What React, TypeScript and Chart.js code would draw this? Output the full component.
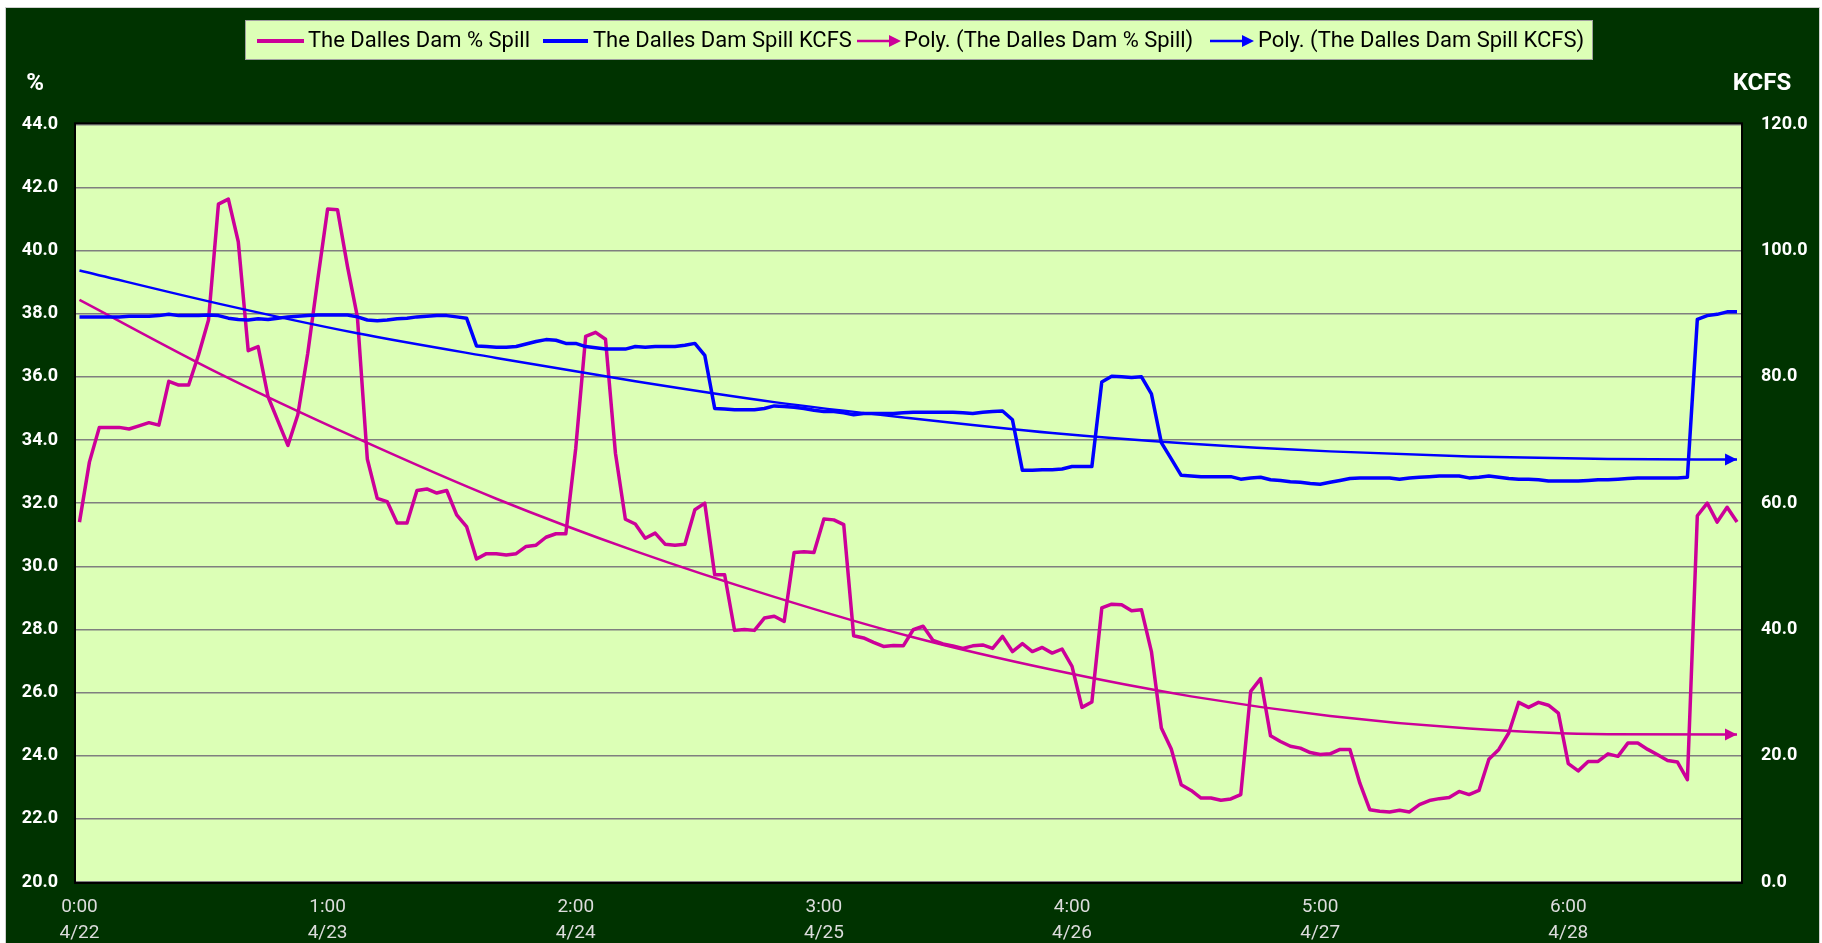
import React, { useEffect, useRef } from 'react';
import { Chart, registerables } from 'chart.js';

Chart.register(...registerables);

// ---------- data ----------
const X_TICK_INDEX = [0, 25, 50, 75, 100, 125, 150];
const X_TICK_TIME = ['0:00', '1:00', '2:00', '3:00', '4:00', '5:00', '6:00'];
const X_TICK_DATE = ['4/22', '4/23', '4/24', '4/25', '4/26', '4/27', '4/28'];

const LEGEND_LABELS = [
  'The Dalles Dam % Spill',
  'The Dalles Dam Spill KCFS',
  'Poly. (The Dalles Dam % Spill)',
  'Poly. (The Dalles Dam Spill KCFS)',
];

// hourly % spill (left axis)
const PCT_SPILL = [
  31.4, 33.3, 34.4, 34.4, 34.4, 34.35, 34.45, 34.55, 34.47, 35.86,
  35.74, 35.74, 36.7, 37.8, 41.47, 41.63, 40.28, 36.83, 36.96, 35.37,
  34.6, 33.83, 34.8, 36.75, 39.07, 41.32, 41.29, 39.5, 37.9, 33.4,
  32.15, 32.05, 31.37, 31.37, 32.4, 32.45, 32.32, 32.4, 31.63, 31.26,
  30.23, 30.4, 30.4, 30.36, 30.4, 30.63, 30.67, 30.92, 31.03, 31.03,
  33.74, 37.28, 37.41, 37.19, 33.58, 31.49, 31.34, 30.89, 31.05, 30.7,
  30.67, 30.7, 31.79, 32.0, 29.73, 29.73, 27.97, 28.0, 27.97, 28.36,
  28.42, 28.25, 30.44, 30.46, 30.44, 31.5, 31.47, 31.32, 27.8, 27.73,
  27.59, 27.46, 27.49, 27.48, 27.99, 28.1, 27.65, 27.54, 27.48, 27.4,
  27.48, 27.51, 27.4, 27.78, 27.3, 27.55, 27.3, 27.43, 27.25, 27.38,
  26.83, 25.53, 25.7, 28.68, 28.8, 28.78, 28.59, 28.62, 27.3, 24.88,
  24.21, 23.08, 22.9, 22.66, 22.66, 22.59, 22.63, 22.77, 26.04, 26.44,
  24.63, 24.45, 24.3, 24.24, 24.1, 24.04, 24.06, 24.2, 24.2, 23.13,
  22.29, 22.24, 22.22, 22.27, 22.22, 22.45, 22.58, 22.64, 22.68, 22.87,
  22.77, 22.9, 23.89, 24.2, 24.72, 25.69, 25.53, 25.69, 25.6, 25.35,
  23.75, 23.52, 23.82, 23.82, 24.06, 23.98, 24.4, 24.4, 24.2, 24.03,
  23.85, 23.8, 23.24, 31.6, 32.0, 31.4, 31.87, 31.4,
];

// hourly spill KCFS (right axis)
const KCFS_SPILL = [
  89.5, 89.5, 89.5, 89.5, 89.5, 89.6, 89.6, 89.6, 89.7, 89.9,
  89.7, 89.7, 89.7, 89.8, 89.7, 89.3, 89.1, 89.0, 89.2, 89.1,
  89.3, 89.5, 89.6, 89.7, 89.8, 89.8, 89.8, 89.8, 89.5, 89.0,
  88.9, 89.0, 89.2, 89.3, 89.5, 89.6, 89.7, 89.7, 89.5, 89.3,
  84.9, 84.8, 84.7, 84.7, 84.8, 85.2, 85.6, 85.9, 85.8, 85.3,
  85.3, 84.8, 84.6, 84.4, 84.4, 84.4, 84.8, 84.7, 84.8, 84.8,
  84.8, 85.0, 85.3, 83.4, 75.0, 74.9, 74.8, 74.8, 74.8, 75.0,
  75.4, 75.3, 75.2, 75.0, 74.7, 74.5, 74.5, 74.3, 74.0, 74.2,
  74.2, 74.2, 74.2, 74.3, 74.4, 74.4, 74.4, 74.4, 74.4, 74.3,
  74.2, 74.4, 74.5, 74.6, 73.2, 65.2, 65.2, 65.3, 65.3, 65.4,
  65.8, 65.8, 65.8, 79.2, 80.1, 80.0, 79.9, 80.0, 77.3, 69.6,
  67.0, 64.4, 64.3, 64.2, 64.2, 64.2, 64.2, 63.8, 64.0, 64.1,
  63.7, 63.6, 63.4, 63.3, 63.1, 63.0, 63.3, 63.6, 63.9, 64.0,
  64.0, 64.0, 64.0, 63.8, 64.0, 64.1, 64.2, 64.3, 64.3, 64.3,
  64.0, 64.1, 64.3, 64.1, 63.9, 63.8, 63.8, 63.7, 63.5, 63.5,
  63.5, 63.5, 63.6, 63.7, 63.7, 63.8, 63.9, 64.0, 64.0, 64.0,
  64.0, 64.0, 64.1, 89.1, 89.7, 89.9, 90.3, 90.3,
];

// polynomial trend lines at sample hours
const TREND_IDX = [0, 14, 28, 42, 56, 70, 84, 98, 112, 126, 140, 154, 167];
const PCT_TREND = [38.44, 36.12, 34.05, 32.14, 30.48, 29.03, 27.75, 26.72, 25.88, 25.26, 24.86, 24.68, 24.67];
const KCFS_TREND = [96.85, 91.6, 86.9, 83.0, 79.3, 76.0, 73.4, 71.1, 69.4, 68.2, 67.4, 67.0, 66.9];

// ---------- style ----------
const CANVAS_W = 1811;
const CANVAS_H = 934;
const DARK_GREEN = '#003300';
const PLOT_BG = '#DCFFB6';
const PINK = '#CC0099';
const BLUE = '#0000FF';

function drawArrowHead(ctx: CanvasRenderingContext2D, x: number, y: number, ang: number, len: number, half: number, color: string) {
  ctx.save();
  ctx.translate(x, y);
  ctx.rotate(ang);
  ctx.fillStyle = color;
  ctx.beginPath();
  ctx.moveTo(0, 0);
  ctx.lineTo(-len, -half);
  ctx.lineTo(-len, half);
  ctx.closePath();
  ctx.fill();
  ctx.restore();
}

const overlayPlugin = {
  id: 'overlay',
  beforeDraw(chart: any) {
    const { ctx, chartArea: a } = chart;
    ctx.save();
    ctx.fillStyle = DARK_GREEN;
    ctx.fillRect(0, 0, chart.width, chart.height);
    ctx.fillStyle = PLOT_BG;
    ctx.fillRect(a.left, a.top, a.right - a.left, a.bottom - a.top);
    ctx.restore();
  },
  afterDatasetsDraw(chart: any) {
    const { ctx, chartArea: a } = chart;
    // arrow heads on trend lines
    chart.data.datasets.forEach((ds: any, di: number) => {
      if (!ds.arrow) return;
      const pts = chart.getDatasetMeta(di).data;
      const p1 = pts[pts.length - 1];
      const p0 = pts[pts.length - 2];
      let fx = p0.x, fy = p0.y;
      if (typeof p1.cp1x === 'number' && Math.abs(p1.cp1x - p1.x) > 0.5) { fx = p1.cp1x; fy = p1.cp1y; }
      const ang = Math.atan2(p1.y - fy, p1.x - fx);
      drawArrowHead(ctx, p1.x, p1.y, ang, 12, 6, ds.borderColor);
    });
    // plot frame
    ctx.save();
    ctx.strokeStyle = '#000';
    ctx.lineWidth = 2;
    ctx.strokeRect(a.left - 1, a.top - 1, a.right - a.left + 2, a.bottom - a.top + 2);
    ctx.restore();
  },
  afterDraw(chart: any) {
    const ctx = chart.ctx as CanvasRenderingContext2D;
    ctx.save();
    // legend box
    const bx = 238, by = 11, bw = 1348, bh = 40;
    ctx.fillStyle = PLOT_BG;
    ctx.fillRect(bx, by, bw, bh);
    ctx.strokeStyle = '#a0a0a0';
    ctx.lineWidth = 1;
    ctx.strokeRect(bx + 0.5, by + 0.5, bw - 1, bh - 1);

    ctx.font = '20px Roboto';
    const w0 = ctx.measureText(LEGEND_LABELS[0]).width;
    const fs = 20 * 222 / w0;
    ctx.font = `${fs.toFixed(2)}px Roboto`;
    ctx.textBaseline = 'middle';
    ctx.textAlign = 'left';
    const cy = by + bh / 2 + 1;
    const entries = [
      { x0: 250, x1: 297, tx: 301, color: PINK, arrow: false },
      { x0: 536, x1: 581, tx: 586, color: BLUE, arrow: false },
      { x0: 850, x1: 894, tx: 897, color: PINK, arrow: true },
      { x0: 1203, x1: 1247, tx: 1251, color: BLUE, arrow: true },
    ];
    entries.forEach((e, k) => {
      ctx.strokeStyle = e.color;
      ctx.lineWidth = e.arrow ? 2.5 : 4;
      ctx.beginPath();
      ctx.moveTo(e.x0, cy);
      ctx.lineTo(e.arrow ? e.x1 - 8 : e.x1, cy);
      ctx.stroke();
      if (e.arrow) drawArrowHead(ctx, e.x1, cy, 0, 12, 6, e.color);
      ctx.fillStyle = '#000';
      ctx.fillText(LEGEND_LABELS[k], e.tx, cy);
    });

    // axis unit titles
    ctx.fillStyle = '#ffffff';
    ctx.font = 'bold 24px Roboto';
    ctx.textAlign = 'center';
    ctx.fillText('%', 28, 75);
    ctx.fillText('KCFS', 1755, 75);
    ctx.restore();
  },
};

export default function App() {
  const ref = useRef<HTMLCanvasElement>(null);

  useEffect(() => {
    const canvas = ref.current;
    if (!canvas) return;
    const chart = new Chart(canvas, {
      type: 'line',
      data: {
        datasets: [
          {
            label: LEGEND_LABELS[0],
            data: PCT_SPILL.map((v, i) => ({ x: i, y: v })),
            yAxisID: 'yPct',
            borderColor: PINK,
            borderWidth: 3.5,
            pointRadius: 0,
            tension: 0,
            order: 4,
          },
          {
            label: LEGEND_LABELS[1],
            data: KCFS_SPILL.map((v, i) => ({ x: i, y: v })),
            yAxisID: 'yKcfs',
            borderColor: BLUE,
            borderWidth: 3.5,
            pointRadius: 0,
            tension: 0,
            order: 2,
          },
          {
            label: LEGEND_LABELS[2],
            data: TREND_IDX.map((x, k) => ({ x, y: PCT_TREND[k] })),
            yAxisID: 'yPct',
            borderColor: PINK,
            borderWidth: 2.5,
            pointRadius: 0,
            cubicInterpolationMode: 'monotone',
            order: 3,
            arrow: true,
          } as any,
          {
            label: LEGEND_LABELS[3],
            data: TREND_IDX.map((x, k) => ({ x, y: KCFS_TREND[k] })),
            yAxisID: 'yKcfs',
            borderColor: BLUE,
            borderWidth: 2.5,
            pointRadius: 0,
            cubicInterpolationMode: 'monotone',
            order: 1,
            arrow: true,
          } as any,
        ],
      },
      options: {
        responsive: false,
        maintainAspectRatio: false,
        devicePixelRatio: 1,
        animation: false,
        layout: { padding: { top: 115.3, left: 0, right: 0, bottom: 0 } },
        elements: {
          point: { radius: 0 },
          line: { borderJoinStyle: 'round', borderCapStyle: 'butt' },
        },
        plugins: {
          legend: { display: false },
          tooltip: { enabled: false },
        },
        scales: {
          x: {
            type: 'linear',
            min: -0.35,
            max: 167.4,
            afterBuildTicks: (s: any) => {
              s.ticks = X_TICK_INDEX.map((v) => ({ value: v }));
            },
            afterFit: (s: any) => {
              s.height = 61;
            },
            grid: { display: false, drawTicks: false },
            border: { display: false },
            ticks: {
              autoSkip: false,
              maxRotation: 0,
              minRotation: 0,
              padding: 12,
              color: '#dcdcdc',
              font: { family: 'Roboto', size: 19, lineHeight: 1.37 },
              callback: (_v: any, idx: number) => [X_TICK_TIME[idx], X_TICK_DATE[idx]],
            },
          },
          yPct: {
            type: 'linear',
            position: 'left',
            min: 20,
            max: 44,
            afterFit: (s: any) => {
              s.width = 69;
            },
            grid: { color: '#7f7f7f', lineWidth: 1.5, drawTicks: false },
            border: { display: false },
            ticks: {
              stepSize: 2,
              padding: 18,
              color: '#ffffff',
              font: { family: 'Roboto', size: 18, weight: 'bold' },
              callback: (v: any) => Number(v).toFixed(1),
            },
          },
          yKcfs: {
            type: 'linear',
            position: 'right',
            min: 0,
            max: 120,
            afterFit: (s: any) => {
              s.width = 77;
            },
            grid: { drawOnChartArea: false, drawTicks: false },
            border: { display: false },
            ticks: {
              stepSize: 20,
              padding: 20,
              color: '#ffffff',
              font: { family: 'Roboto', size: 18, weight: 'bold' },
              callback: (v: any) => Number(v).toFixed(1),
            },
          },
        },
      } as any,
      plugins: [overlayPlugin],
    });
    return () => chart.destroy();
  }, []);

  return (
    <div style={{ position: 'fixed', left: 0, top: 0, width: 1822, height: 943, background: '#ffffff', overflow: 'hidden' }}>
      <div
        style={{
          position: 'absolute',
          left: 5,
          top: 7,
          width: 1813,
          height: 936,
          borderTop: '1px solid #cfcfcf',
          borderLeft: '1px solid #cfcfcf',
          borderRight: '1px solid #cfcfcf',
          background: DARK_GREEN,
        }}
      />
      <canvas
        ref={ref}
        width={CANVAS_W}
        height={CANVAS_H}
        style={{ position: 'absolute', left: 7, top: 9, width: CANVAS_W, height: CANVAS_H }}
      />
    </div>
  );
}
